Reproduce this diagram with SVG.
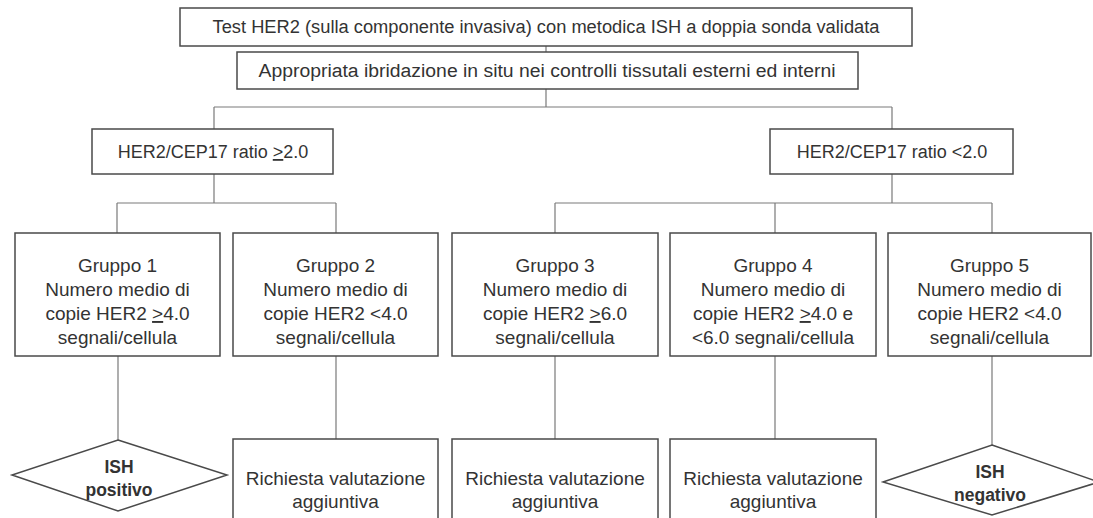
<svg xmlns="http://www.w3.org/2000/svg" width="1093" height="518" viewBox="0 0 1093 518">
<style>
.box{fill:#fff;stroke:#4a4a4a;stroke-width:1.5}
.con{fill:none;stroke:#7a7a7a;stroke-width:1.2}
text{font-family:"Liberation Sans",Arial,sans-serif;fill:#333;text-anchor:middle}
.t18{font-size:18px}
.t16{font-size:19px}
.b{font-weight:bold;font-size:17.5px}
.u{text-decoration:underline}
</style>
<rect width="1093" height="518" fill="#fff"/>
<g id="connectors">
<path class="con" d="M546,46V52 M546,89V107 M214,107H892 M214,107V129 M892,107V129"/>
<path class="con" d="M214,174V203 M117,203H336 M117,203V233 M336,203V233"/>
<path class="con" d="M892,174V203 M555,203H992 M555,203V233 M775,203V233 M992,203V233"/>
<path class="con" d="M118,356V440 M336,356V439 M555,356V439 M775,356V439 M992,356V445"/>
</g>
<g id="test">
<rect class="box" x="180" y="8" width="732" height="38"/>
<text class="t18" x="546" y="33" textLength="667" lengthAdjust="spacingAndGlyphs">Test HER2 (sulla componente invasiva) con metodica ISH a doppia sonda validata</text>
</g>
<g id="ibridazione">
<rect class="box" x="237" y="52" width="621" height="37"/>
<text class="t18" x="547" y="77" textLength="577" lengthAdjust="spacingAndGlyphs">Appropriata ibridazione in situ nei controlli tissutali esterni ed interni</text>
</g>
<g id="ratio-high">
<rect class="box" x="92" y="129" width="241" height="45"/>
<text class="t18" x="213" y="158">HER2/CEP17 ratio <tspan class="u">&gt;</tspan>2.0</text>
</g>
<g id="ratio-low">
<rect class="box" x="770" y="129" width="243" height="45"/>
<text class="t18" x="892" y="158">HER2/CEP17 ratio &lt;2.0</text>
</g>
<g id="gruppo1">
<rect class="box" x="15" y="233" width="205" height="123"/>
<text class="t16" x="117.5" y="272">Gruppo 1</text>
<text class="t16" x="117.5" y="296">Numero medio di</text>
<text class="t16" x="117.5" y="320">copie HER2 <tspan class="u">&gt;</tspan>4.0</text>
<text class="t16" x="117.5" y="344">segnali/cellula</text>
</g>
<g id="gruppo2">
<rect class="box" x="233" y="233" width="205" height="123"/>
<text class="t16" x="335.5" y="272">Gruppo 2</text>
<text class="t16" x="335.5" y="296">Numero medio di</text>
<text class="t16" x="335.5" y="320">copie HER2 &lt;4.0</text>
<text class="t16" x="335.5" y="344">segnali/cellula</text>
</g>
<g id="gruppo3">
<rect class="box" x="452" y="233" width="206" height="123"/>
<text class="t16" x="555" y="272">Gruppo 3</text>
<text class="t16" x="555" y="296">Numero medio di</text>
<text class="t16" x="555" y="320">copie HER2 <tspan class="u">&gt;</tspan>6.0</text>
<text class="t16" x="555" y="344">segnali/cellula</text>
</g>
<g id="gruppo4">
<rect class="box" x="670" y="233" width="206" height="123"/>
<text class="t16" x="773" y="272">Gruppo 4</text>
<text class="t16" x="773" y="296">Numero medio di</text>
<text class="t16" x="773" y="320">copie HER2 <tspan class="u">&gt;</tspan>4.0 e</text>
<text class="t16" x="773" y="344">&lt;6.0 segnali/cellula</text>
</g>
<g id="gruppo5">
<rect class="box" x="888" y="233" width="203" height="123"/>
<text class="t16" x="989.5" y="272">Gruppo 5</text>
<text class="t16" x="989.5" y="296">Numero medio di</text>
<text class="t16" x="989.5" y="320">copie HER2 &lt;4.0</text>
<text class="t16" x="989.5" y="344">segnali/cellula</text>
</g>
<g id="ish-positivo">
<polygon class="box" points="118,440 227,475 118,511 12,475"/>
<text class="b" x="119" y="473">ISH</text>
<text class="b" x="119" y="496">positivo</text>
</g>
<g id="richiesta2">
<rect class="box" x="233" y="439" width="205" height="95"/>
<text class="t16" x="335.5" y="485">Richiesta valutazione</text>
<text class="t16" x="335.5" y="508">aggiuntiva</text>
</g>
<g id="richiesta3">
<rect class="box" x="452" y="439" width="206" height="95"/>
<text class="t16" x="555" y="485">Richiesta valutazione</text>
<text class="t16" x="555" y="508">aggiuntiva</text>
</g>
<g id="richiesta4">
<rect class="box" x="670" y="439" width="206" height="95"/>
<text class="t16" x="773" y="485">Richiesta valutazione</text>
<text class="t16" x="773" y="508">aggiuntiva</text>
</g>
<g id="ish-negativo">
<polygon class="box" points="992,445 1099,482 992,515 883,482"/>
<text class="b" x="990" y="478">ISH</text>
<text class="b" x="990" y="501">negativo</text>
</g>
</svg>
